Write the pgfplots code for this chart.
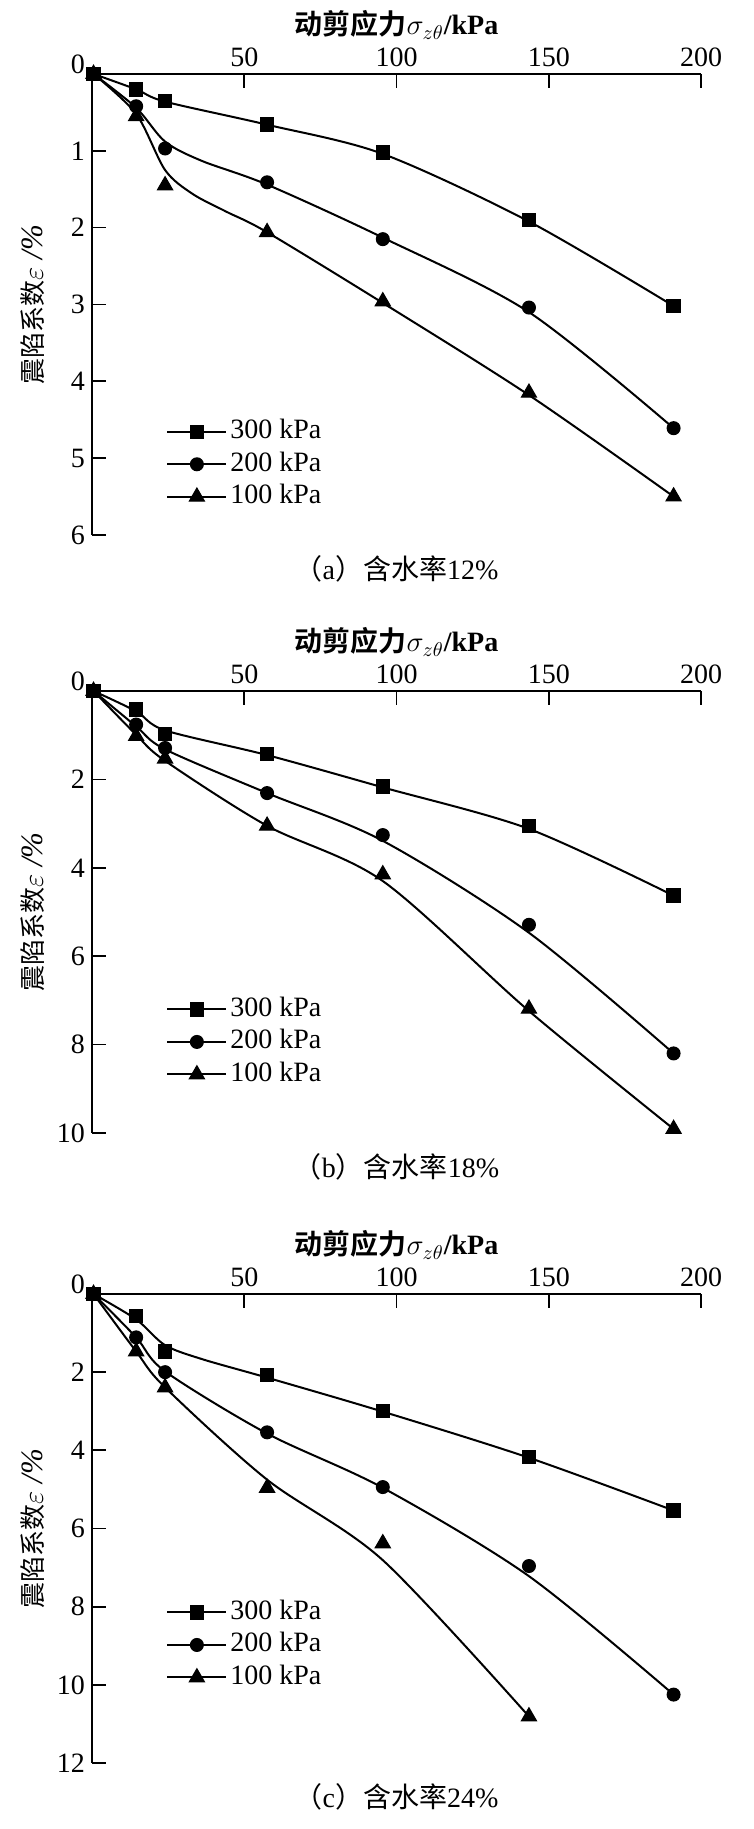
\documentclass[border=0pt]{standalone}
\usepackage{fontspec}
\setmainfont{Liberation Serif}
\newfontfamily\cjk{Noto Sans CJK SC}
\newfontfamily\cjkb{Noto Sans CJK SC Bold}
\usepackage{pgfplots}
\pgfplotsset{compat=1.18}
\newcommand{\fs}{\rmfamily\fontsize{14}{16}\selectfont}
\pgfplotsset{
 panel/.style={
  scale only axis, width=304.5pt, xmin=0, xmax=200, ymin=0, y dir=reverse,
  axis x line*=top, axis y line*=left, tick align=inside, major tick length=7pt,
  xtick={50,100,150,200}, clip=false, enlargelimits=false,
  axis line style={line width=0.85pt}, every tick/.style={black,line width=0.85pt},
  tick label style={font=\fs}, /pgf/number format/assume math mode=true,
  extra y ticks={0}, extra y tick style={yticklabel style={yshift=5pt}},
  legend style={draw=none, fill=none, inner sep=0pt, anchor=west, font=\fs, row sep=3.25pt,
    nodes={inner sep=0pt, text height=10pt, text depth=3pt},
    /tikz/every odd column/.append style={column sep=1.5pt}},
  legend cell align=left,
  legend image code/.code={\draw[mark repeat=2,mark phase=2] plot coordinates {(0pt,0pt) (14.75pt,0pt) (29.5pt,0pt)};},
 },
 curve/.style={black, line width=1pt, smooth, tension=0.5, no markers, forget plot},
 pts/.style={black, only marks, forget plot},
 m300/.style={mark=square*, mark size=3.3pt, mark options={solid, fill=black, draw=black, line width=0.6pt}},
 m200/.style={mark=*, mark size=3.2pt, mark options={solid, fill=black, draw=black, line width=0.6pt}},
 m100/.style={mark=triangle*, mark size=4.3pt, mark options={solid, fill=black, draw=black, line width=0.6pt}},
 leg/.style={black, line width=1pt},
}
\newcommand{\legs}{%
 \addlegendimage{leg, m300}\addlegendentry{300 kPa}
 \addlegendimage{leg, m200}\addlegendentry{200 kPa}
 \addlegendimage{leg, m100}\addlegendentry{100 kPa}}
\newcommand{\xlab}{{\cjkb 动剪应力}$\sigma_{z\theta}$\textbf{/kPa}}
\newcommand{\ylab}{{\cjk\fontsize{13}{15}\selectfont 震陷系数}{\fontsize{15.5}{16}\selectfont$\varepsilon$\ \textit{/\%}}}
\begin{document}
\begin{tikzpicture}
\useasboundingbox (0,0) rectangle (377pt,914.5pt);
% ---------- (a) ----------
\begin{axis}[panel, name=a, at={(46pt,877.5pt)}, anchor=north west, height=230.5pt,
  ymax=6, ytick={1,...,6}, legend style={at={(axis cs:24.3,5.08)}}]
\legs
% fitted curves
\addplot[curve] coordinates {(0.5,0) (14.5,0.20) (24,0.36) (57.5,0.66) (95.5,1.04) (143.5,1.92) (191,3.02)};
\addplot[curve] coordinates {(0.5,0) (14.5,0.44) (24,0.88) (36,1.13) (57.5,1.44) (95.5,2.13) (143.5,3.10) (191,4.61)};
\addplot[curve] coordinates {(0.5,0) (14.5,0.52) (24,1.25) (33,1.56) (44,1.79) (57.5,2.06) (95.5,2.98) (143.5,4.18) (191,5.50)};
% measured points
\addplot[pts, m300] coordinates {(0.5,0) (14.5,0.20) (24,0.35) (57.5,0.66) (95.5,1.02) (143.5,1.90) (191,3.02)};
\addplot[pts, m200] coordinates {(0.5,0) (14.5,0.42) (24,0.97) (57.5,1.41) (95.5,2.15) (143.5,3.04) (191,4.61)};
\addplot[pts, m100] coordinates {(0.5,0) (14.5,0.55) (24,1.45) (57.5,2.06) (95.5,2.96) (143.5,4.15) (191,5.50)};
\end{axis}
\node[font=\fs] at ([yshift=24.5pt]a.north) {\xlab};
\node[font=\fs, rotate=90] at ([xshift=-29.5pt]a.west) {\ylab};
\node[font=\fs] at ([yshift=-17pt]a.south) {{\cjk （}a{\cjk ）含水率}12\%};
% ---------- (b) ----------
\begin{axis}[panel, name=b, at={(46pt,569pt)}, anchor=north west, height=221pt,
  ymax=10, ytick={2,4,...,10}, legend style={at={(axis cs:24.3,7.94)}}]
\legs
\addplot[curve] coordinates {(0.5,0) (14.5,0.46) (24,0.89) (57.5,1.45) (95.5,2.18) (143.5,3.12) (191,4.63)};
\addplot[curve] coordinates {(0.5,0) (14.5,0.80) (24,1.32) (57.5,2.31) (95.5,3.39) (143.5,5.47) (191,8.20)};
\addplot[curve] coordinates {(0.5,0) (14.5,0.99) (24,1.58) (57.5,3.05) (95.5,4.30) (143.5,7.24) (191,9.91)};
\addplot[pts, m300] coordinates {(0.5,0) (14.5,0.42) (24,0.97) (57.5,1.43) (95.5,2.16) (143.5,3.06) (191,4.63)};
\addplot[pts, m200] coordinates {(0.5,0) (14.5,0.76) (24,1.29) (57.5,2.31) (95.5,3.26) (143.5,5.29) (191,8.20)};
\addplot[pts, m100] coordinates {(0.5,0) (14.5,1.02) (24,1.53) (57.5,3.05) (95.5,4.15) (143.5,7.19) (191,9.91)};
\end{axis}
\node[font=\fs] at ([yshift=24.5pt]b.north) {\xlab};
\node[font=\fs, rotate=90] at ([xshift=-29.5pt]b.west) {\ylab};
\node[font=\fs] at ([yshift=-17pt]b.south) {{\cjk （}b{\cjk ）含水率}18\%};
% ---------- (c) ----------
\begin{axis}[panel, name=c, at={(46pt,267.5pt)}, anchor=north west, height=234.5pt,
  ymax=12, ytick={2,4,...,12}, legend style={at={(axis cs:24.3,8.98)}}]
\legs
\addplot[curve] coordinates {(0.5,0) (14.5,0.65) (24,1.31) (36.3,1.67) (57.5,2.14) (95.5,3.01) (143.5,4.19) (191,5.54)};
\addplot[curve] coordinates {(0.5,0) (14.5,1.11) (24,1.98) (57.5,3.57) (95.5,4.96) (143.5,7.22) (191,10.25)};
\addplot[curve] coordinates {(0.5,0) (14.5,1.47) (24,2.39) (57.5,4.75) (95.5,6.81) (143.5,10.81)};
\addplot[pts, m300] coordinates {(0.5,0) (14.5,0.56) (24,1.47) (57.5,2.08) (95.5,2.99) (143.5,4.17) (191,5.54)};
\addplot[pts, m200] coordinates {(0.5,0) (14.5,1.11) (24,2.00) (57.5,3.54) (95.5,4.94) (143.5,6.96) (191,10.25)};
\addplot[pts, m100] coordinates {(0.5,0) (14.5,1.47) (24,2.39) (57.5,4.96) (95.5,6.38) (143.5,10.81)};
\end{axis}
\node[font=\fs] at ([yshift=24.5pt]c.north) {\xlab};
\node[font=\fs, rotate=90] at ([xshift=-29.5pt]c.west) {\ylab};
\node[font=\fs] at ([yshift=-17pt]c.south) {{\cjk （}c{\cjk ）含水率}24\%};
\end{tikzpicture}
\end{document}
